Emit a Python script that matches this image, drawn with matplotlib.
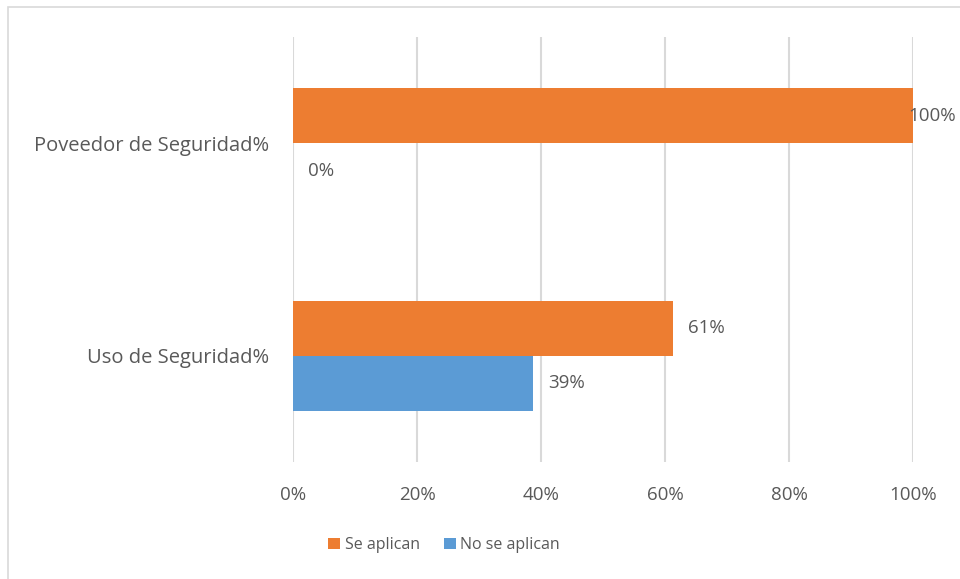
import numpy as np
import matplotlib.pyplot as plt
from matplotlib.patches import Rectangle

categories = ['Uso de Seguridad%', 'Poveedor de Seguridad%']
series_names = ['Se aplican', 'No se aplican']
se_aplican = [0.613, 1.00]
no_se_aplican = [0.387, 0.00]
x_ticks = [0, 0.2, 0.4, 0.6, 0.8, 1.0]
x_tick_labels = ['0%', '20%', '40%', '60%', '80%', '100%']

orange = '#ED7D31'
blue = '#5B9BD5'
text_col = '#595959'

plt.rcParams['font.family'] = ['Open Sans', 'DejaVu Sans']

fig = plt.figure(figsize=(9.6, 5.79), dpi=100)
ax = fig.add_axes([293/960, 1 - 462/579, 620/960, 425/579])

y = np.arange(len(categories))
h = 0.26
bars1 = ax.barh(y + h/2, se_aplican, height=h, color=orange, label=series_names[0], zorder=3)
bars2 = ax.barh(y - h/2, no_se_aplican, height=h, color=blue, label=series_names[1], zorder=3)

for bars, vals in [(bars1, se_aplican), (bars2, no_se_aplican)]:
    for b, v in zip(bars, vals):
        off = -5 if v >= 1 else 15
        ax.annotate(f'{v:.0%}', (v, b.get_y() + b.get_height()/2),
                    xytext=(off, 0), textcoords='offset pixels',
                    ha='left', va='center', fontsize=13.5, color=text_col,
                    annotation_clip=False)

ax.set_xlim(0, 1)
ax.set_ylim(-0.5, 1.5)
ax.set_xticks(x_ticks)
ax.set_xticklabels(x_tick_labels)
ax.set_yticks(y)
ax.set_yticklabels(categories, fontsize=14.5)
ax.tick_params(length=0, labelcolor=text_col)
ax.tick_params(axis='x', pad=17, labelsize=13.5)
ax.tick_params(axis='y', pad=17)
ax.grid(axis='x', color='#D9D9D9', linewidth=1.5, zorder=0)
for s in ax.spines.values():
    s.set_visible(False)

fig.legend(loc='center', bbox_to_anchor=(444/960, 1 - 545/579), ncol=2, frameon=False,
           fontsize=11.5, labelcolor=text_col, handlelength=0.75, handleheight=0.75,
           handletextpad=0.3, columnspacing=1.5)

fig.patches.append(Rectangle((8/960, -0.01), 1.0, 1 - 7/579 + 0.01, transform=fig.transFigure,
                             fill=False, edgecolor='#D9D9D9', linewidth=1.2))

fig.savefig('out.png', dpi=100)
